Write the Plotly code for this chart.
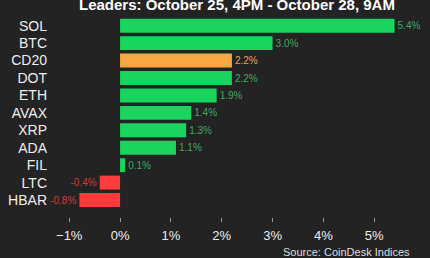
import plotly.graph_objects as go

categories = ["SOL", "BTC", "CD20", "DOT", "ETH", "AVAX", "XRP", "ADA", "FIL", "LTC", "HBAR"]
values = [5.4, 3.0, 2.2, 2.2, 1.9, 1.4, 1.3, 1.1, 0.1, -0.4, -0.8]
tick_vals = [-1, 0, 1, 2, 3, 4, 5]
tick_text = ["\u22121%", "0%", "1%", "2%", "3%", "4%", "5%"]

GREEN, ORANGE, RED = "#1ad45f", "#f9a745", "#ff3b3b"
GREEN_T, ORANGE_T, RED_T = "#3fa862", "#e9a24e", "#d23c3c"

bar_colors = [ORANGE if c == "CD20" else (RED if v < 0 else GREEN) for c, v in zip(categories, values)]
text_colors = [ORANGE_T if c == "CD20" else (RED_T if v < 0 else GREEN_T) for c, v in zip(categories, values)]
labels = [f"{v:.1f}%" for v in values]

fig = go.Figure(go.Bar(
    x=values, y=categories, orientation="h",
    marker=dict(color=bar_colors, line=dict(width=0)),
    text=labels, textposition="outside",
    textfont=dict(color=text_colors, size=10, family="Liberation Sans, Arial"),
    cliponaxis=False,
))

fig.update_layout(
    width=430, height=258,
    margin=dict(l=52, r=8, t=17, b=36),
    paper_bgcolor="#232323", plot_bgcolor="#232323",
    bargap=0.2, showlegend=False,
    font=dict(family="Liberation Sans, Arial", color="#eeeeee"),
)
fig.update_xaxes(
    range=[-1.339, 5.94], tickvals=tick_vals, ticktext=tick_text,
    showgrid=False, zeroline=False, showline=False,
    ticks="inside", ticklen=4, tickcolor="#999999", tickwidth=1,
    tickfont=dict(size=13, color="#eeeeee"), ticklabelstandoff=4,
)
fig.update_yaxes(
    type="category", categoryorder="array", categoryarray=categories,
    range=[11.26, -0.5], showgrid=False, zeroline=False, showline=False,
    ticks="", tickfont=dict(size=14, color="#eeeeee"), ticklabelstandoff=4,
)
fig.add_annotation(
    text="<b>Leaders: October 25, 4PM - October 28, 9AM</b>",
    xref="paper", yref="paper", x=(237 - 52) / 370, y=1, xanchor="center", yanchor="bottom",
    yshift=2, showarrow=False, font=dict(size=15, color="#ffffff"),
)
fig.add_annotation(
    text="Source: CoinDesk Indices",
    xref="paper", yref="paper", x=(412 - 52) / 370, y=0, xanchor="right", yanchor="top",
    yshift=-22, showarrow=False, font=dict(size=11, color="#dddddd"),
)
fig.write_html("out.html")
